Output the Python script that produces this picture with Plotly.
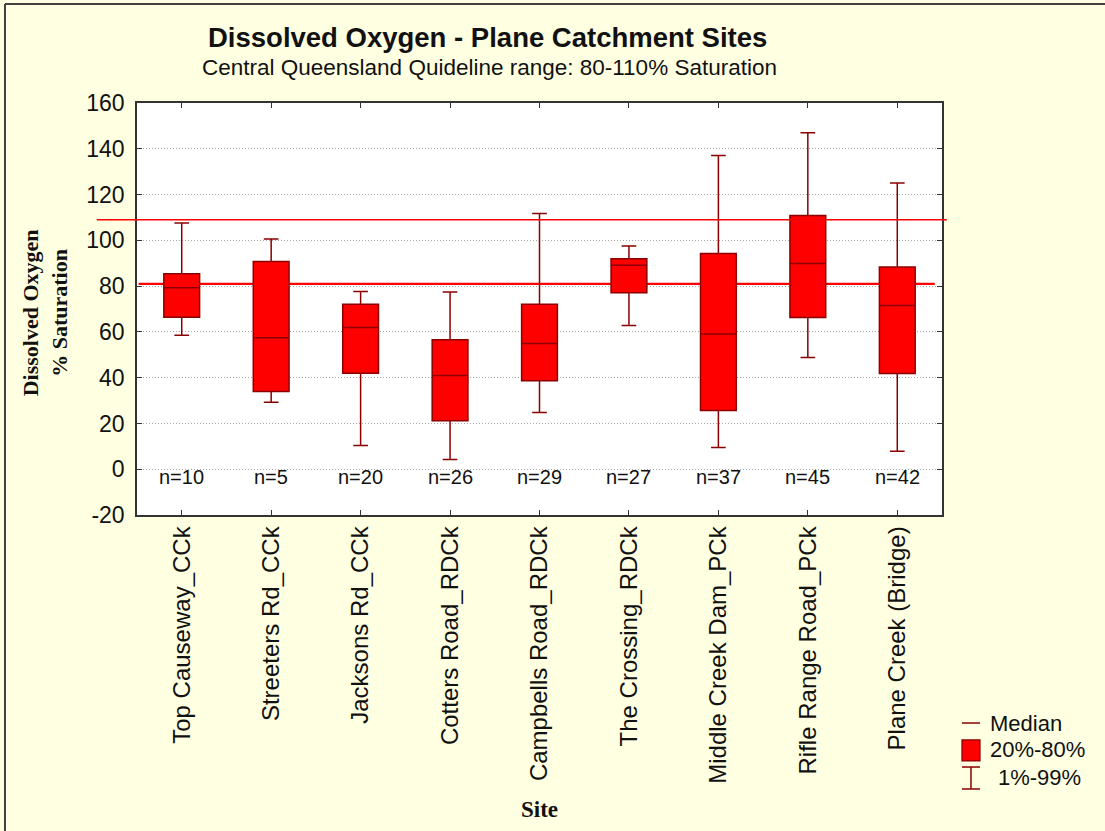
import plotly.graph_objects as go

# ---- data ----
sites = ["Top Causeway_CCk", "Streeters Rd_CCk", "Jacksons Rd_CCk", "Cotters Road_RDCk",
         "Campbells Road_RDCk", "The Crossing_RDCk", "Middle Creek Dam_PCk",
         "Rifle Range Road_PCk", "Plane Creek (Bridge)"]
p01 = [58.5, 29.3, 10.4, 4.2, 24.8, 62.8, 9.5, 48.8, 7.9]
p20 = [66.4, 34.0, 41.9, 21.2, 38.7, 77.1, 25.7, 66.3, 41.8]
median = [79.3, 57.4, 61.9, 41.0, 54.9, 89.1, 59.1, 89.9, 71.5]
p80 = [85.4, 90.8, 72.1, 56.6, 72.1, 92.0, 94.3, 110.8, 88.3]
p99 = [107.6, 100.6, 77.7, 77.4, 111.7, 97.5, 137.1, 147.0, 125.0]
n_obs = [10, 5, 20, 26, 29, 27, 37, 45, 42]
y_tickvals = [-20, 0, 20, 40, 60, 80, 100, 120, 140, 160]
y_ticktext = ["-20", "0", "20", "40", "60", "80", "100", "120", "140", "160"]
guide_low = 81
guide_high = 109
n_label_y = -3.5

DARK = "#8B0000"
RED = "#FF0000"
BG = "#FFFFE1"
FONT = "Liberation Sans, Arial, sans-serif"
SERIF = "Liberation Serif, Times New Roman, serif"

fig = go.Figure()
fig.add_trace(go.Box(
    x=sites, q1=p20, median=median, q3=p80, lowerfence=p01, upperfence=p99,
    fillcolor=RED, line=dict(color=DARK, width=1.5), width=0.4, whiskerwidth=0.41,
    orientation="v", showlegend=False, hoverinfo="skip",
))

# guideline lines
fig.add_shape(type="line", xref="paper", yref="y", x0=-0.05, x1=1.006,
              y0=guide_high, y1=guide_high, line=dict(color=RED, width=1.5), layer="above")
fig.add_shape(type="line", xref="paper", yref="y", x0=0.002, x1=0.991,
              y0=guide_low, y1=guide_low, line=dict(color=RED, width=2.2), layer="below")

# n labels
for s, n in zip(sites, n_obs):
    fig.add_annotation(x=s, y=n_label_y, xref="x", yref="y", text=f"n={n}",
                       showarrow=False, xanchor="center", yanchor="middle",
                       font=dict(family=FONT, size=20, color="#111"))

# titles
fig.add_annotation(x=0.435, y=1.158, xref="paper", yref="paper", xanchor="center", yanchor="middle",
                   text="<b>Dissolved Oxygen - Plane Catchment Sites</b>", showarrow=False,
                   font=dict(family=FONT, size=27.5, color="#111"))
fig.add_annotation(x=0.4385, y=1.085, xref="paper", yref="paper", xanchor="center", yanchor="middle",
                   text="Central Queensland Quideline range: 80-110% Saturation", showarrow=False,
                   font=dict(family=FONT, size=22.5, color="#111"))
fig.add_annotation(x=-0.114, y=0.49, xref="paper", yref="paper", textangle=-90,
                   xanchor="center", yanchor="middle",
                   text="<b>Dissolved Oxygen<br>% Saturation</b>", showarrow=False,
                   font=dict(family=SERIF, size=22, color="#111"))
fig.add_annotation(x=0.5, y=-0.716, xref="paper", yref="paper", xanchor="center", yanchor="middle",
                   text="<b>Site</b>", showarrow=False,
                   font=dict(family=SERIF, size=23, color="#111"))

# manual legend
lx0, lx1 = 1.0248, 1.0472
lxm = (lx0 + lx1) / 2
fig.add_shape(type="line", xref="paper", yref="paper", x0=lx0, x1=lx1, y0=-0.5049, y1=-0.5049,
              line=dict(color=DARK, width=1.5))
fig.add_shape(type="rect", xref="paper", yref="paper", x0=lx0, x1=lx1, y0=-0.597, y1=-0.546,
              fillcolor=RED, line=dict(color=DARK, width=1.2))
fig.add_shape(type="line", xref="paper", yref="paper", x0=lxm, x1=lxm, y0=-0.6117, y1=-0.665,
              line=dict(color=DARK, width=1.5))
for yy in (-0.6117, -0.665):
    fig.add_shape(type="line", xref="paper", yref="paper", x0=lx0, x1=lx1, y0=yy, y1=yy,
                  line=dict(color=DARK, width=1.5))
for txt, xx, yy in (("Median", 1.0571, -0.5049), ("20%-80%", 1.0571, -0.570),
                    ("1%-99%", 1.067, -0.638)):
    fig.add_annotation(x=xx, y=yy, xref="paper", yref="paper", text=txt, showarrow=False,
                       xanchor="left", yanchor="middle",
                       font=dict(family=FONT, size=22, color="#111"))

# outer border (left & top)
fig.add_shape(type="line", xref="paper", yref="paper", x0=-0.1640, x1=-0.1640, y0=1.2403, y1=-0.768,
              line=dict(color="#404040", width=2))
fig.add_shape(type="line", xref="paper", yref="paper", x0=-0.1640, x1=1.21, y0=1.2403, y1=1.2403,
              line=dict(color="#404040", width=2))

fig.update_layout(
    width=1105, height=831,
    margin=dict(l=137, r=163, t=103, b=316, pad=0),
    paper_bgcolor=BG, plot_bgcolor="white",
    font=dict(family=FONT, size=21, color="#111"),
    showlegend=False,
    xaxis=dict(type="category", range=[-0.5, 8.5], tickangle=-90, ticks="inside", ticklen=5,
               tickcolor="#333", showline=True, linecolor="#333", linewidth=1.5, mirror="ticks",
               showgrid=False, tickfont=dict(family=FONT, size=24, color="#111")),
    yaxis=dict(range=[-20, 160], tickvals=y_tickvals, ticktext=y_ticktext,
               ticks="inside", ticklen=5, tickcolor="#333", ticklabelstandoff=6,
               showline=True, linecolor="#333", linewidth=1.5, mirror="ticks",
               showgrid=True, gridcolor="#a8a8a8", griddash="1px,2px", gridwidth=1,
               zeroline=False, tickfont=dict(family=FONT, size=23, color="#111")),
)

fig.write_html("out.html", config={"displayModeBar": False},
               post_script="document.body.style.margin='0px';")
